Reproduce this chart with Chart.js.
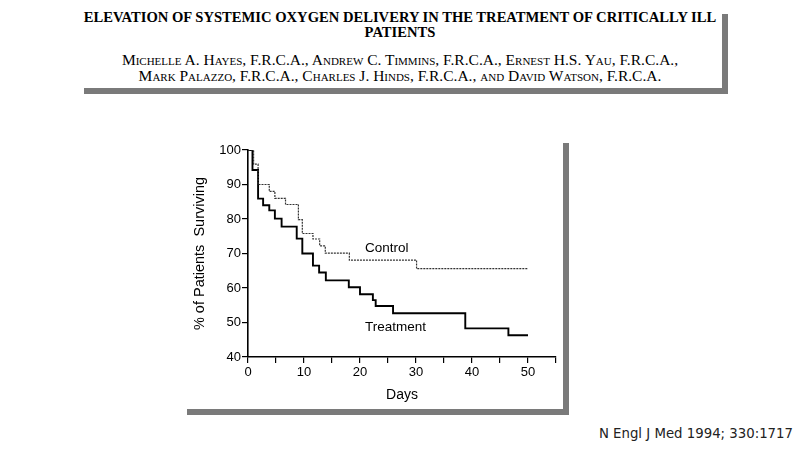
<!DOCTYPE html>
<html>
<head>
<meta charset="utf-8">
<script src="https://cdn.jsdelivr.net/npm/chart.js@4"></script>
<style>
  body { margin: 0; width: 800px; height: 449px; background: #fff; position: relative; overflow: hidden; }
  .box { position: absolute; background: #fff; box-shadow: 6px 6px 0 #7a7a7a; }
  #head { left: 78px; top: 8px; width: 644px; height: 80px; font-family: "Liberation Serif", serif; color: #000; text-align: center; }
  #head .t { position: absolute; left: -10px; width: 664px; font-weight: bold; font-size: 14.6px; line-height: 15px; }
  #head .a { position: absolute; left: -10px; width: 664px; font-size: 15.5px; font-variant: small-caps; line-height: 16px; }
  #plot { left: 181px; top: 137px; width: 382px; height: 272px; }
  #cite { position: absolute; right: 7px; top: 426px; font-family: "DejaVu Sans", sans-serif; font-size: 13.3px; color: #222; }
</style>
</head>
<body>
<div id="head" class="box">
  <div class="t" style="top:2px">ELEVATION OF SYSTEMIC OXYGEN DELIVERY IN THE TREATMENT OF CRITICALLY ILL<br>PATIENTS</div>
  <div class="a" style="top:44px">Michelle A. Hayes, F.R.C.A., Andrew C. Timmins, F.R.C.A., Ernest H.S. Yau, F.R.C.A.,<br>Mark Palazzo, F.R.C.A., Charles J. Hinds, F.R.C.A., and David Watson, F.R.C.A.</div>
</div>
<div id="plot" class="box"><canvas id="km" width="382" height="272"></canvas></div>
<div id="cite">N Engl J Med 1994; 330:1717</div>
<script>
// survival curves (day, % surviving)
const treatmentDays = [0, 0.8, 1.8, 2.7, 3.8, 4.8, 6.0, 8.7, 9.7, 11.6, 12.7, 13.9, 18.0, 20.0, 22.3, 22.8, 25.9, 38.8, 46.5, 50];
const treatmentPct  = [100, 94.2, 85.9, 84, 82.5, 80.1, 77.8, 74.3, 70, 66.5, 64.5, 62.2, 60.2, 58.2, 56.5, 54.8, 52.7, 48.3, 46.3, 46.3];
const controlDays = [0, 1.0, 1.8, 3.8, 4.8, 6.7, 9.0, 9.7, 11.6, 12.8, 13.8, 18.1, 30.1, 50];
const controlPct  = [100, 95.9, 90, 88, 86, 84.2, 79.8, 75.8, 74.2, 72.2, 70.1, 68.1, 65.6, 65.6];

const xTicks = [0, 10, 20, 30, 40, 50];
const yTicks = [40, 50, 60, 70, 80, 90, 100];

const curveLabels = [
  { text: "Control", x: 20.9, y: 71.4 },
  { text: "Treatment", x: 20.9, y: 48.7 }
];

function toPoints(xs, ys) {
  return xs.map((x, i) => ({ x: x, y: ys[i] }));
}

const labelPlugin = {
  id: "curveLabels",
  afterDatasetsDraw(chart) {
    const ctx = chart.ctx;
    const xs = chart.scales.x;
    const ys = chart.scales.y;
    ctx.save();
    ctx.fillStyle = "#000";
    ctx.font = "13.5px 'Liberation Sans', Arial, sans-serif";
    ctx.textBaseline = "middle";
    curveLabels.forEach((l) => {
      ctx.fillText(l.text, xs.getPixelForValue(l.x), ys.getPixelForValue(l.y));
    });
    ctx.restore();
  }
};

new Chart(document.getElementById("km"), {
  type: "line",
  data: {
    datasets: [
      {
        label: "Control",
        data: toPoints(controlDays, controlPct),
        borderColor: "#333",
        borderWidth: 1.2,
        borderDash: [2, 1],
        stepped: true,
        pointRadius: 0,
        fill: false
      },
      {
        label: "Treatment",
        data: toPoints(treatmentDays, treatmentPct),
        borderColor: "#000",
        borderWidth: 1.9,
        stepped: true,
        pointRadius: 0,
        fill: false
      }
    ]
  },
  options: {
    responsive: false,
    animation: false,
    layout: { padding: { left: 0, top: 13, right: 7, bottom: 0 } },
    plugins: { legend: { display: false }, tooltip: { enabled: false } },
    scales: {
      x: {
        type: "linear",
        min: 0,
        max: 55,
        afterFit: (s) => { s.height = 52; },
        afterBuildTicks: (s) => { s.ticks = [0, 5, 10, 15, 20, 25, 30, 35, 40, 45, 50, 55].map((v) => ({ value: v })); },
        ticks: {
          color: "#000",
          padding: 2,
          maxRotation: 0,
          font: { family: "'Liberation Sans', Arial, sans-serif", size: 13 },
          callback: (v) => (xTicks.includes(v) ? String(v) : "")
        },
        grid: { drawOnChartArea: false, drawTicks: true, tickLength: 6, color: "#000", lineWidth: 1.2 },
        border: { color: "#000", width: 1.6 },
        title: {
          display: true,
          text: "Days",
          color: "#000",
          padding: { top: 0, bottom: 5 },
          font: { family: "'Liberation Sans', Arial, sans-serif", size: 14 }
        }
      },
      y: {
        min: 40,
        max: 100,
        afterFit: (s) => { s.width = 67; },
        afterBuildTicks: (s) => { s.ticks = [40, 45, 50, 55, 60, 65, 70, 75, 80, 85, 90, 95, 100].map((v) => ({ value: v })); },
        ticks: {
          color: "#000",
          padding: 1,
          font: { family: "'Liberation Sans', Arial, sans-serif", size: 13 },
          callback: (v) => (yTicks.includes(v) ? String(v) : "")
        },
        grid: { drawOnChartArea: false, drawTicks: true, tickLength: 6, color: "#000", lineWidth: 1.2 },
        border: { color: "#000", width: 1.6 },
        title: {
          display: true,
          text: "% of Patients  Surviving",
          color: "#000",
          padding: { top: 10, bottom: 0 },
          font: { family: "'Liberation Sans', Arial, sans-serif", size: 14.5 }
        }
      }
    }
  },
  plugins: [labelPlugin]
});
</script>
</body>
</html>
